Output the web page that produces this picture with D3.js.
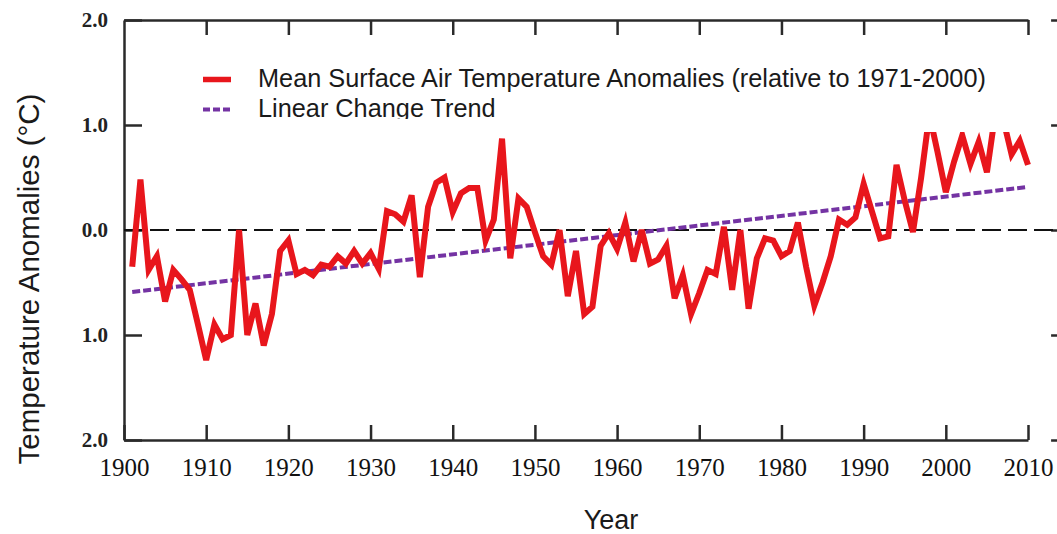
<!DOCTYPE html>
<html>
<head>
<meta charset="utf-8">
<script src="https://cdn.jsdelivr.net/npm/d3@7"></script>
<style>
  body { margin: 0; background: #fff; }
  svg { display: block; }
</style>
</head>
<body>
<script>
// data, one value per year
const years = d3.range(1901, 2011)
const anomalies = [
  -0.35, 0.48, -0.38, -0.25, -0.68, -0.38, -0.47, -0.57, -0.9, -1.24,   // 1901-1910
  -0.9, -1.04, -1.0, 0.0, -1.0, -0.7, -1.1, -0.8, -0.2, -0.1,           // 1911-1920
  -0.42, -0.38, -0.43, -0.33, -0.35, -0.25, -0.32, -0.2, -0.32, -0.22,  // 1921-1930
  -0.37, 0.18, 0.15, 0.08, 0.33, -0.45, 0.22, 0.45, 0.5, 0.17,          // 1931-1940
  0.35, 0.4, 0.4, -0.1, 0.1, 0.87, -0.27, 0.3, 0.22, -0.02,             // 1941-1950
  -0.25, -0.33, 0.0, -0.63, -0.2, -0.8, -0.73, -0.15, -0.03, -0.18,     // 1951-1960
  0.07, -0.3, 0.0, -0.32, -0.28, -0.15, -0.65, -0.43, -0.8, -0.6,       // 1961-1970
  -0.38, -0.42, 0.03, -0.57, 0.0, -0.75, -0.27, -0.08, -0.1, -0.25,     // 1971-1980
  -0.2, 0.07, -0.35, -0.72, -0.5, -0.25, 0.1, 0.05, 0.12, 0.44,         // 1981-1990
  0.18, -0.08, -0.06, 0.62, 0.28, -0.02, 0.5, 1.1, 0.74, 0.36,          // 1991-2000
  0.65, 0.9, 0.63, 0.84, 0.55, 1.1, 1.05, 0.72, 0.85, 0.62              // 2001-2010
]
const trendYears = [1901, 2010]
const trendValues = [-0.59, 0.41]

const xTicks = d3.range(1900, 2011, 10)
const yTicks = [-2, -1, 0, 1, 2]
const yTickLabels = ['2.0', '1.0', '0.0', '1.0', '2.0']

const legendLabels = [
  'Mean Surface Air Temperature Anomalies (relative to 1971-2000)',
  'Linear Change Trend'
]

const W = 1057, H = 534
const red = '#e8161c', purple = '#7433a3', axisColor = '#2a2a2a'

const svg = d3.select('body').append('svg')
  .attr('width', W)
  .attr('height', H)

const x = d3.scaleLinear().domain([1900, 2010]).range([124, 1028])
const y = d3.scaleLinear().domain([-2, 2]).range([440, 20])
const xRight = x(2015)

// frame: bottom, top, left, right
const bottom = svg.append('g')
  .attr('transform', `translate(0,${y(-2)})`)
  .call(d3.axisBottom(x).tickValues(xTicks).tickFormat(d3.format('d'))
    .tickSize(-15).tickSizeOuter(0).tickPadding(18))
bottom.selectAll('text')
  .style('font-family', '"Liberation Serif", "Times New Roman", serif')
  .style('font-size', '25px')
  .attr('fill', '#111')

svg.append('g')
  .attr('transform', `translate(0,${y(2)})`)
  .call(d3.axisTop(x).tickValues(xTicks.slice(1)).tickFormat('')
    .tickSize(-15).tickSizeOuter(0))

const left = svg.append('g')
  .attr('transform', `translate(${x(1900)},0)`)
  .call(d3.axisLeft(y).tickValues(yTicks).tickFormat((d, i) => yTickLabels[i])
    .tickSize(-18).tickSizeOuter(0).tickPadding(16))
left.selectAll('text')
  .style('font-family', '"Liberation Serif", "Times New Roman", serif')
  .style('font-size', '21px')
  .style('font-weight', 'bold')
  .attr('fill', '#222')

svg.append('g')
  .attr('transform', `translate(${xRight},0)`)
  .call(d3.axisRight(y).tickValues(yTicks).tickFormat('')
    .tickSize(-18).tickSizeOuter(0))

svg.selectAll('.domain, .tick line')
  .attr('stroke', axisColor)
  .attr('stroke-width', 2.5)

// zero reference
svg.append('line')
  .attr('x1', x(1900)).attr('x2', W)
  .attr('y1', y(0)).attr('y2', y(0))
  .attr('stroke', '#111')
  .attr('stroke-width', 2)
  .attr('stroke-dasharray', '19,7')

// trend
svg.append('path')
  .datum(trendYears.map((yr, i) => [yr, trendValues[i]]))
  .attr('fill', 'none')
  .attr('stroke', purple)
  .attr('stroke-width', 4)
  .attr('stroke-dasharray', '8,3')
  .attr('d', d3.line().x(d => x(d[0])).y(d => y(d[1])))

// anomalies
svg.append('path')
  .datum(years.map((yr, i) => [yr, anomalies[i]]))
  .attr('fill', 'none')
  .attr('stroke', red)
  .attr('stroke-width', 6)
  .attr('stroke-linejoin', 'miter')
  .attr('d', d3.line().x(d => x(d[0])).y(d => y(d[1])))

// legend sits on a white box that hides the highest peaks
svg.append('defs').append('clipPath').attr('id', 'legclip')
  .append('rect').attr('x', 190).attr('y', 50).attr('width', 860).attr('height', 69)

svg.append('rect')
  .attr('x', 195).attr('y', 55)
  .attr('width', 850).attr('height', 77)
  .attr('fill', '#fff')

const legend = svg.append('g').attr('clip-path', 'url(#legclip)')
legend.selectAll('line')
  .data(legendLabels)
  .enter()
  .append('line')
  .attr('x1', 203).attr('x2', 231)
  .attr('y1', (d, i) => 79.5 + i * 30)
  .attr('y2', (d, i) => 79.5 + i * 30)
  .attr('stroke', (d, i) => i == 0 ? red : purple)
  .attr('stroke-width', (d, i) => i == 0 ? 5.5 : 4)
  .attr('stroke-dasharray', (d, i) => i == 0 ? null : '7,3')

legend.selectAll('text')
  .data(legendLabels)
  .enter()
  .append('text')
  .attr('x', 258)
  .attr('y', (d, i) => 87 + i * 30)
  .style('font-family', '"Liberation Sans", Arial, sans-serif')
  .style('font-size', '25.3px')
  .attr('fill', '#1a1a1a')
  .text(d => d)

// axis titles
svg.append('text')
  .attr('transform', `translate(39,${279}) rotate(-90)`)
  .attr('text-anchor', 'middle')
  .style('font-family', '"Liberation Sans", Arial, sans-serif')
  .style('font-size', '29.5px')
  .attr('fill', '#1a1a1a')
  .text('Temperature Anomalies (°C)')

svg.append('text')
  .attr('x', 611)
  .attr('y', 529)
  .attr('text-anchor', 'middle')
  .style('font-family', '"Liberation Sans", Arial, sans-serif')
  .style('font-size', '27px')
  .attr('fill', '#1a1a1a')
  .text('Year')
</script>
</body>
</html>
